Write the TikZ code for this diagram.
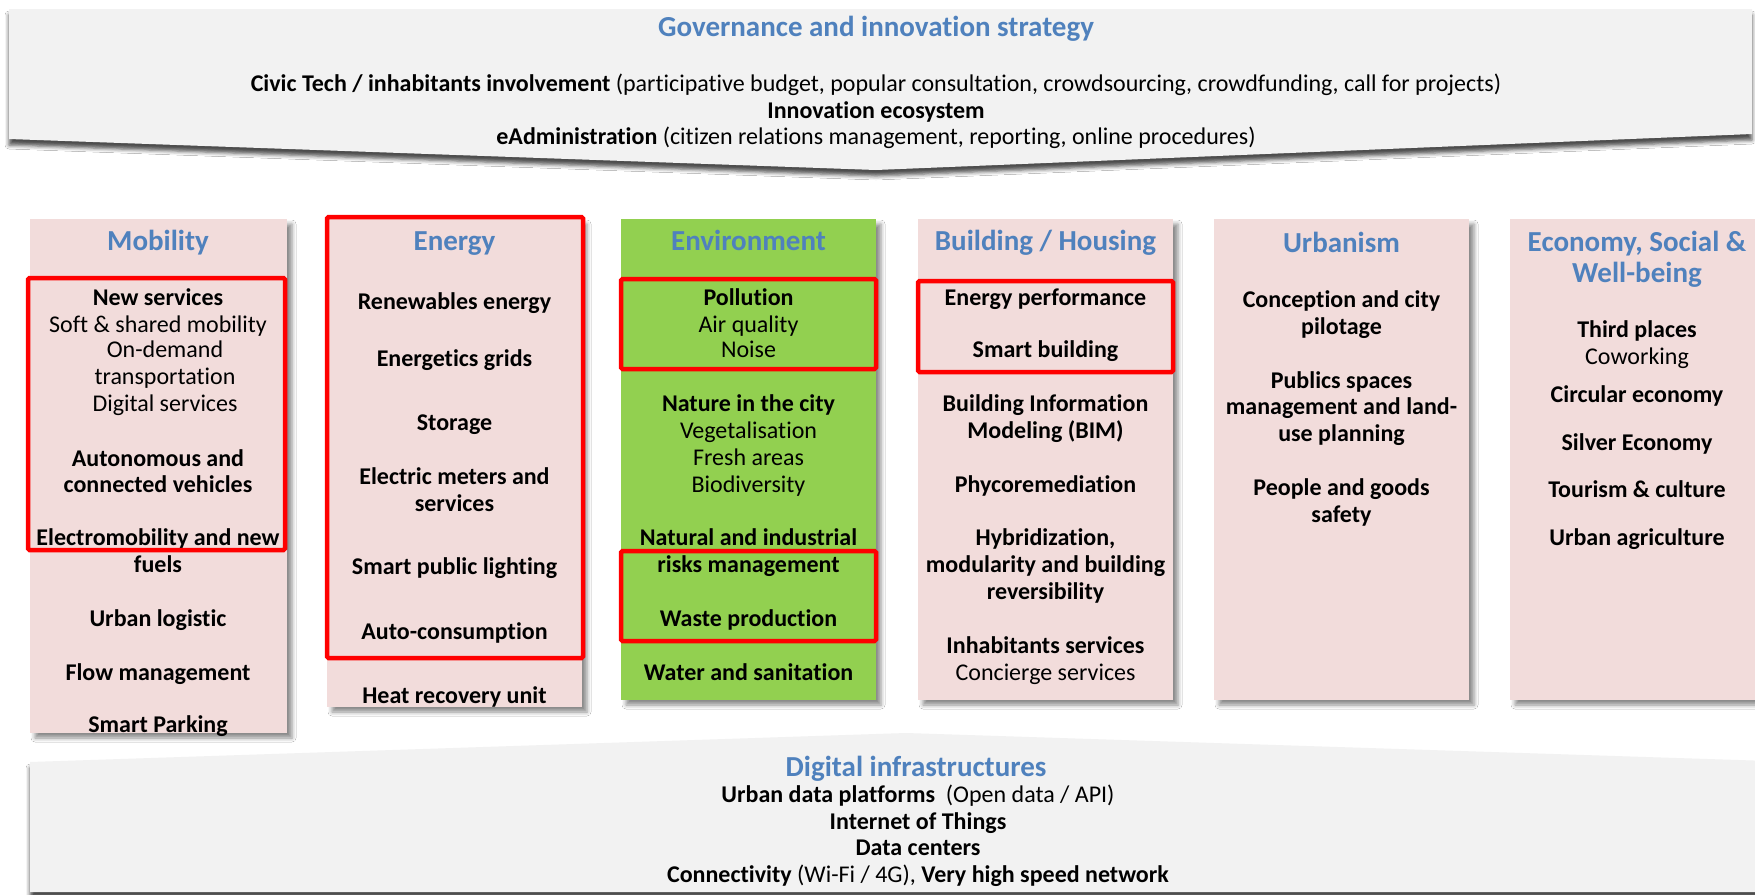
\documentclass[tikz,border=0pt]{standalone}
\usepackage{fontspec}
\setmainfont[Ligatures=NoCommon]{Carlito}
\usetikzlibrary{shadows.blur}
\definecolor{pinkbox}{HTML}{F2DCDB}
\definecolor{greenbox}{HTML}{92D050}
\definecolor{ttlblue}{HTML}{4F81BD}
\definecolor{bannergray}{HTML}{F2F2F2}
\definecolor{redline}{HTML}{FF0000}
\newcommand\bodyfnt{\fontsize{24}{26.6}\selectfont}
\newcommand\ttlfnt{\fontsize{29}{32}\selectfont\bfseries}
\begin{document}
\begin{tikzpicture}[x=1pt,y=-1pt,
  colbox/.style={fill=pinkbox, blur shadow={shadow xshift=5pt, shadow yshift=-5pt, shadow blur radius=4pt, shadow opacity=45}},
  greencol/.style={colbox, fill=greenbox},
  banner/.style={fill=bannergray, blur shadow={shadow xshift=0pt, shadow yshift=-6pt, shadow blur radius=4pt, shadow opacity=70}},
  hl/.style={draw=redline, line width=4.5pt, rounded corners=1.5pt},
  ttl/.style={font=\ttlfnt, text=ttlblue, anchor=base, inner sep=0pt},
  itm/.style={font=\bodyfnt\bfseries, anchor=base, inner sep=0pt},
]
\useasboundingbox (0,0) rectangle (1755,894);
\fill[white] (0,0) rectangle (1755,894);

% banners
\path[banner] (9,9) -- (1752,9) -- (1752,134) -- (876,170) -- (9,139) -- cycle;
\path[banner] (30,762) -- (906,733) -- (1800,762) -- (1800,892) -- (30,892) -- cycle;

% columns
\path[colbox] (30,219) rectangle (287,733);
\path[colbox] (327,219) rectangle (582,707);
\path[greencol] (621,219) rectangle (876,700);
\path[colbox] (918,219) rectangle (1173,700);
\path[colbox] (1214,219) rectangle (1469,700);
\path[colbox] (1510,219) rectangle (1766,700);

% top banner text
\node[ttl] (gov) at (876,36) {Governance and innovation strategy};
\node[itm] (gov1) at (876,91.5) {Civic Tech / inhabitants involvement \mdseries(participative budget, popular consultation, crowdsourcing, crowdfunding, call for projects)};
\node[itm] (gov2) at (876,118.5) {Innovation ecosystem};
\node[itm] (gov3) at (876,144.5) {eAdministration \mdseries(citizen relations management, reporting, online procedures)};

% bottom banner text
\node[ttl] (dig) at (916,776) {Digital infrastructures};
\node[itm] (dig1) at (918,802.5) {Urban data platforms \mdseries\ (Open data / API)};
\node[itm] (dig2) at (918,829.5) {Internet of Things};
\node[itm] (dig3) at (918,855.5) {Data centers};
\node[itm] (dig4) at (918,882.5) {Connectivity \mdseries(Wi-Fi / 4G), \bfseries Very high speed network};

% column titles
\node[ttl] (tmob) at (158,250) {Mobility};
\node[ttl] (tene) at (454.5,250) {Energy};
\node[ttl] (tenv) at (748.5,250) {Environment};
\node[ttl] (tbld) at (1045.5,250) {Building / Housing};
\node[ttl] (turb) at (1341.5,252) {Urbanism};
\node[ttl] (teco1) at (1637,251) {Economy, Social \&};
\node[ttl] (teco2) at (1637,282) {Well-being};

% Mobility
\foreach \py/\dx/\lab [count=\i] in {298/0/New services, 325/0/\mdseries Soft \& shared mobility, 350/7/\mdseries On-demand, 377/7/\mdseries transportation, 404/7/\mdseries Digital services, 459/0/Autonomous and, 485/0/connected vehicles, 538/0/Electromobility and new, 565/0/fuels, 619/0/Urban logistic, 673/0/Flow management, 725/0/Smart Parking}
  \node[itm] (mob\i) at (158+\dx,\py+7.5) {\lab};

% Energy
\foreach \py/\lab [count=\i] in {302/Renewables energy, 359/Energetics grids, 423/Storage, 477/Electric meters and, 504/services, 567/Smart public lighting, 632/Auto-consumption, 696/Heat recovery unit}
  \node[itm] (ene\i) at (454.5,\py+7.5) {\lab};

% Environment
\foreach \py/\lab [count=\i] in {298/Pollution, 325/\mdseries Air quality, 350/\mdseries Noise, 404/Nature in the city, 431/\mdseries Vegetalisation, 458/\mdseries Fresh areas, 485/\mdseries Biodiversity, 538/Natural and industrial, 565/risks management, 619/Waste production, 673/Water and sanitation}
  \node[itm] (env\i) at (748.5,\py+7.5) {\lab};

% Building
\foreach \py/\lab [count=\i] in {298/Energy performance, 350/Smart building, 404/Building Information, 431/Modeling (BIM), 485/Phycoremediation, 538/{Hybridization,}, 565/modularity and building, 592/reversibility, 646/Inhabitants services, 673/\mdseries Concierge services}
  \node[itm] (bld\i) at (1045.5,\py+7.5) {\lab};

% Urbanism
\foreach \py/\lab [count=\i] in {300/Conception and city, 327/pilotage, 381/Publics spaces, 407/management and land-, 434/use planning, 488/People and goods, 515/safety}
  \node[itm] (urb\i) at (1341.5,\py+7.5) {\lab};

% Economy
\foreach \py/\lab [count=\i] in {330/Third places, 357/\mdseries Coworking, 395/Circular economy, 443/Silver Economy, 490/Tourism \& culture, 538/Urban agriculture}
  \node[itm] (eco\i) at (1637,\py+7.5) {\lab};

% red highlight frames
\draw[hl] (28,278) rectangle (285,550);
\draw[hl] (327,217) rectangle (583,658);
\draw[hl] (621,279) rectangle (876,369);
\draw[hl] (621,551) rectangle (876,641);
\draw[hl] (918,281) rectangle (1173,372);
\end{tikzpicture}
\end{document}
